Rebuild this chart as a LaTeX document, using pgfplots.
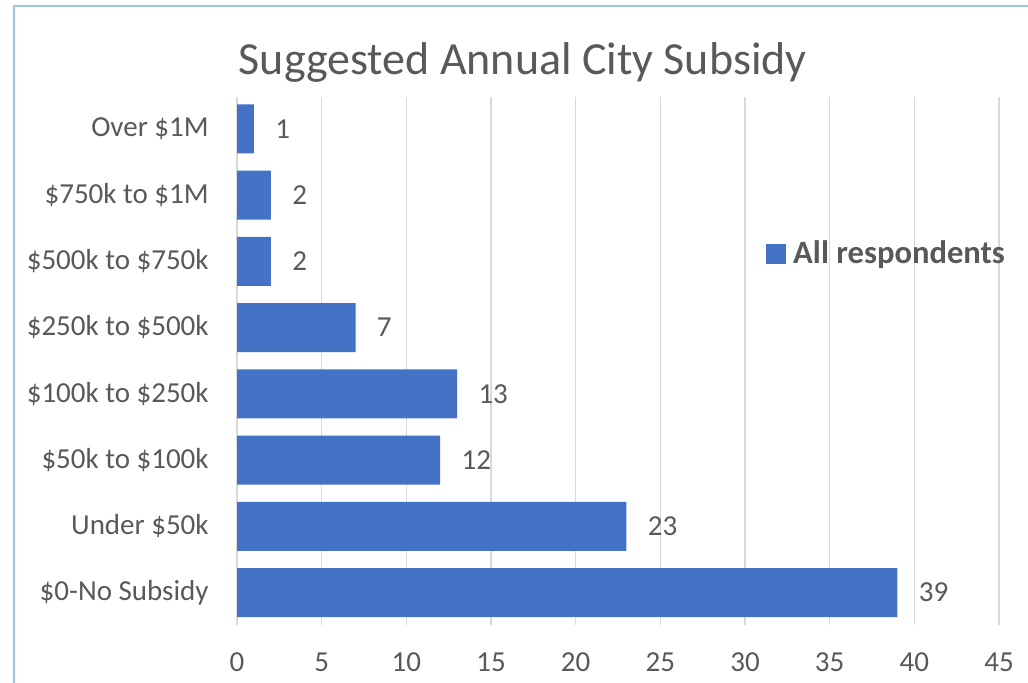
\documentclass[border=0pt]{standalone}
\usepackage{pgfplots}
\pgfplotsset{compat=1.18}
\usepackage{fontspec}
\setmainfont{Carlito}
\definecolor{barblue}{HTML}{4472C4}
\definecolor{txtgray}{HTML}{595959}
\definecolor{gridgray}{HTML}{D9D9D9}
\definecolor{framblue}{HTML}{9DC3E6}
\begin{document}
\begin{tikzpicture}
  \clip (0,0) rectangle (514bp,-341.5bp);
  \draw[framblue, line width=1.2bp] (7bp,-345bp) -- (7bp,-3bp) -- (520bp,-3bp);
  \begin{axis}[
    at={(118.5bp,-312.5bp)}, anchor=south west,
    xbar, scale only axis,
    width=381bp, height=264bp,
    xmin=0, xmax=45, ymin=-0.49, ymax=7.48,
    xtick={0,5,...,45},
    ytick={0,...,7},
    yticklabels={\$0-No Subsidy, Under \$50k, \$50k to \$100k, \$100k to \$250k,
                 \$250k to \$500k, \$500k to \$750k, \$750k to \$1M, Over \$1M},
    bar width=24.5bp,
    axis line style={draw=none},
    major tick length=0pt,
    xmajorgrids, major grid style={gridgray, line width=0.75bp},
    tick label style={font=\fontsize{14.5bp}{17bp}\selectfont, text=txtgray, inner sep=0pt},
    /pgf/number format/assume math mode=true,
    xticklabel shift=13.5bp,
    yticklabel shift=14bp,
    title={Suggested Annual City Subsidy},
    title style={at={(0.375,1)}, anchor=base, yshift=5.5bp, inner sep=0pt,
                 font=\fontsize{23bp}{27bp}\selectfont, text=txtgray},
    nodes near coords,
    every node near coord/.append style={anchor=west, inner sep=0pt, xshift=10.5bp,
                 font=\fontsize{14.5bp}{17bp}\selectfont, text=txtgray},
    legend style={at={(0.694,0.703)}, anchor=west, draw=none, fill=none,
                  inner sep=0pt, font=\bfseries\fontsize{16.3bp}{19bp}\selectfont,
                  text=txtgray, nodes={inner sep=0pt}},
    legend image code/.code={\fill[barblue] (0bp,-5bp) rectangle (10bp,5bp);
                             \path (13.5bp,0bp);},
  ]
  \addplot[fill=barblue, draw=none] coordinates {
    (39,0) (23,1) (12,2) (13,3) (7,4) (2,5) (2,6) (1,7)
  };
  \addlegendentry{All respondents}
  \end{axis}
\end{tikzpicture}
\end{document}
